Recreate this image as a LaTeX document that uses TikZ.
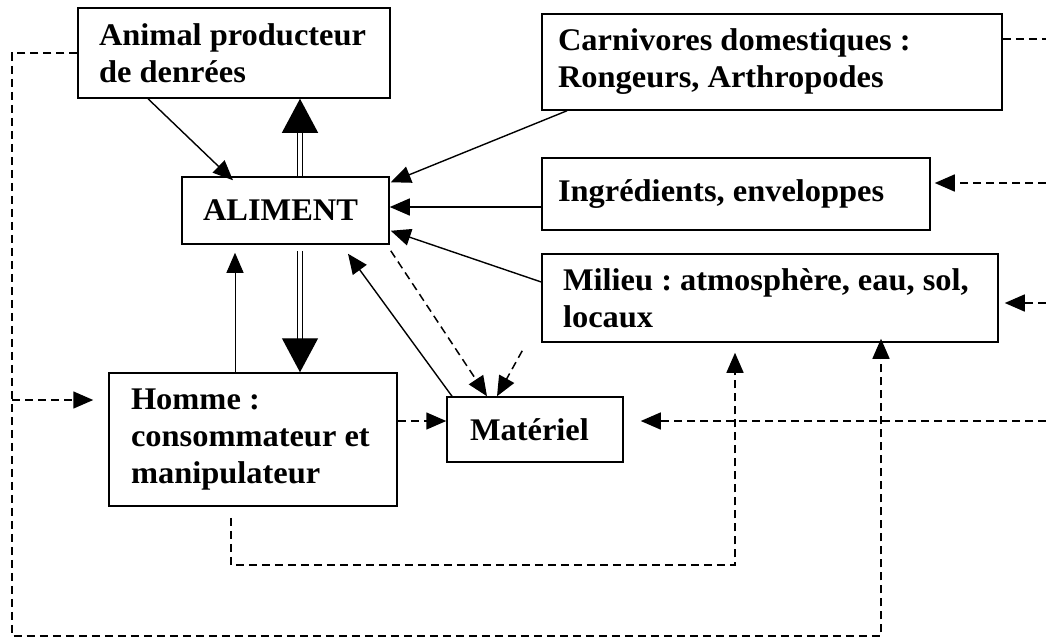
\documentclass[tikz,border=0pt]{standalone}
\usepackage{fontspec}
\setmainfont{Liberation Serif}[FakeStretch=1.03]
\frenchspacing
\usetikzlibrary{positioning,arrows.meta,calc}

\tikzset{
  box/.style={draw,line width=1.5pt,align=left,inner ysep=0pt,
    font=\fontsize{31.5}{37}\selectfont\bfseries,
    execute at begin node={\spaceskip=0pt\xspaceskip=0pt\relax}},
  arr/.style={->,line width=1.4pt},
  finarr/.style={->,line width=1pt},
  pointille/.style={line width=1.5pt,dash pattern=on 8pt off 5pt},
  dbl/.style={double,line width=1.2pt,double distance=3.5pt,
    -{Triangle[length=34pt,width=36pt]}}
}

\begin{document}
\begin{tikzpicture}[x=1pt,y=-1pt,>={Triangle[length=20pt,width=17pt]}]
    \useasboundingbox (0,0) rectangle (1046,638);

    \draw (234,53) node[box,minimum width=312pt,minimum height=90pt,
      inner xsep=21pt,text width=270pt] (animal) {Animal producteur\\de denrées};
    \draw (772,62) node[box,minimum width=460pt,minimum height=96pt,
      inner xsep=16pt,text width=428pt] (carniv) {Carnivores domestiques :\\Rongeurs, Arthropodes};
    \draw (285.5,210.5) node[box,minimum width=207pt,minimum height=67pt,
      inner xsep=21pt,text width=165pt] (aliment) {ALIMENT};
    \draw (736,194) node[box,minimum width=388pt,minimum height=72pt,
      inner xsep=16pt,text width=356pt] (ingred) {Ingrédients, enveloppes};
    \draw (770,298) node[box,minimum width=456pt,minimum height=88pt,
      inner xsep=21pt,text width=414pt] (milieu) {Milieu : atmosphère, eau, sol,\\locaux};
    \draw (253,439.5) node[box,minimum width=288pt,minimum height=133pt,
      inner xsep=22pt,text width=244pt] (homme) {Homme :\\consommateur~et\\manipulateur};
    \draw (535,429.5) node[box,minimum width=176pt,minimum height=65pt,
      inner xsep=23pt,text width=130pt] (materiel) {Matériel};

    % bords et coins des pointilles
    \coordinate (gauche) at (12,53);
    \coordinate (bas) at (12,636);
    \coordinate (basd) at (881,636);
    \coordinate (branche) at (12,400);
    \coordinate (coinH) at (735,565);
    \coordinate (bordA) at (1046,39);
    \coordinate (bordB) at (1046,183);
    \coordinate (bordC) at (1046,303);
    \coordinate (bordD) at (1046,421);

    % vers l'aliment
    \draw[arr] (148,0 |- animal.south) -- ($(233,0 |- aliment.north)+(0,4)$);
    \draw[arr] (567,0 |- carniv.south) -- ($(aliment.north east)+(1,6)$);
    \draw[arr] (ingred.west |- 0,207) -- (aliment.east |- 0,207);
    \draw[arr] (milieu.west |- 0,282) -- ($(aliment.south east)+(1,-14)$);
    \draw[finarr] (235,0 |- homme.north) -- ($(235,0 |- aliment.south)+(0,8)$);
    \draw[arr] (452,0 |- materiel.north) -- ($(348,0 |- aliment.south)+(0,9)$);

    \draw[dbl] (300,0 |- aliment.north) -- (300,0 |- animal.south);
    \draw[dbl] ($(300,0 |- aliment.south)+(0,6)$) -- (300,0 |- homme.north);

    % vers le materiel
    \draw[pointille,->] ($(aliment.south east)+(1,6)$) -- (487,0 |- materiel.north);
    \draw[pointille,->] ($(milieu.south west)+(-19,8)$) -- (497,0 |- materiel.north);
    \draw[pointille,->] (homme.east |- 0,421) -- (materiel.west |- 0,421);

    % boucles
    \draw[pointille,->] ($(231,0 |- homme.south)+(0,11)$) |- (coinH)
      -- ($(735,0 |- milieu.south)+(0,10)$);
    \draw[pointille,->] (animal.west) -- (gauche) -- (bas) -- (basd)
      -- ($(881,0 |- milieu.south)+(0,-4)$);
    \draw[pointille,->] (branche) -- ($(homme.west |- branche)+(-15,0)$);

    % depuis la droite
    \draw[pointille] (carniv.east |- bordA) -- (bordA);
    \draw[pointille,->] (bordB) -- ($(ingred.east |- bordB)+(4,0)$);
    \draw[pointille,->] (bordC) -- ($(milieu.east |- bordC)+(6,0)$);
    \draw[pointille,->] (bordD) -- ($(materiel.east |- bordD)+(17,0)$);
  \end{tikzpicture}
\end{document}
